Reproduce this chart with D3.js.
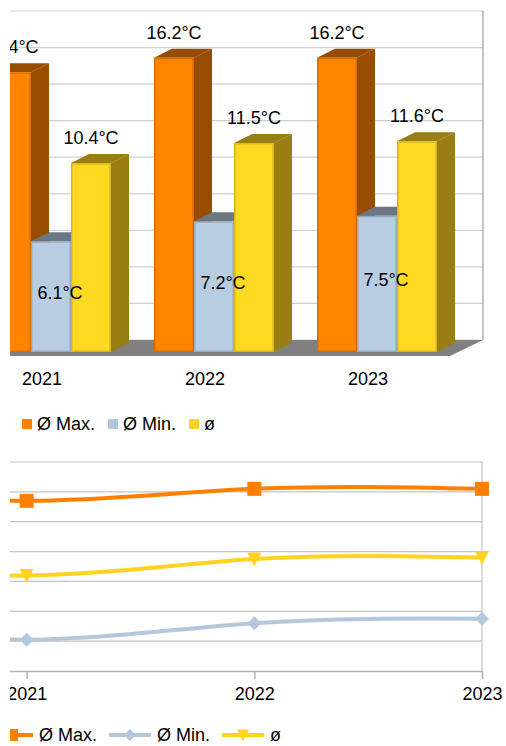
<!DOCTYPE html>
<html lang="en">
<head>
<meta charset="UTF-8">
<title>Temperaturen</title>
<script src="https://d3js.org/d3.v7.min.js"></script>
<style>
    body {
        margin: 0;
        background: #fff;
        font-family: "Liberation Sans", Arial, sans-serif;
    }
    svg { display: block; }
    text { font-size: 18px; fill: #000; }
</style>
</head>
<body>
<div id="container"></div>
<script>
// data (2020 lies left of the visible crop, values estimated from the line trend)
const years = ["2020", "2021", "2022", "2023"];
const seriesNames = ["Ø Max.", "Ø Min.", "ø"];
const maxTemp = [16.4, 15.4, 16.2, 16.2];
const minTemp = [7.4, 6.1, 7.2, 7.5];
const avgTemp = [11.7, 10.4, 11.5, 11.6];
const seriesColors = ["#ff8000", "#b4c7dc", "#ffd320"];
const barTicks = d3.range(0, 19, 2);
const lineTicks = d3.range(4, 19, 2);

const series = seriesNames.map((name, i) => ({
    name: name,
    color: seriesColors[i],
    values: [maxTemp, minTemp, avgTemp][i]
}));

const fmt = v => v.toFixed(1) + "°C";
const cropLeft = 10;

const svg = d3.select('#container').append('svg')
    .attr('width', 506)
    .attr('height', 746);

// the picture is cropped on the left side
svg.append('defs').append('clipPath').attr('id', 'crop')
    .append('rect').attr('x', cropLeft).attr('y', 0).attr('width', 496).attr('height', 746);
const root = svg.append('g').attr('clip-path', 'url(#crop)');

/* ---------- 3D bar chart ---------- */
const bar = root.append('g');
const x0 = d3.scaleBand().domain(years).range([-193.5, 458.5]);
const x1 = d3.scaleBand().domain(seriesNames).range([21.5, 141.5]);
const yWall = d3.scaleLinear().domain([0, 18]).range([340, 11]);
const yFront = d3.scaleLinear().domain([0, 18]).range([352, 25]);
const dx = 18, dy = 9;
const wallRight = 483;

// back wall grid
bar.selectAll('line.grid')
    .data(barTicks)
    .join('line')
    .attr('class', 'grid')
    .attr('x1', cropLeft)
    .attr('x2', wallRight)
    .attr('y1', d => yWall(d))
    .attr('y2', d => yWall(d))
    .attr('stroke', '#cfcfcf')
    .attr('stroke-width', 1.2);

bar.append('line')
    .attr('x1', wallRight).attr('x2', wallRight)
    .attr('y1', yWall(18)).attr('y2', yWall(0))
    .attr('stroke', '#b3b3b3')
    .attr('stroke-width', 1.5);

// floor
const floorBack = yWall(0), floorFront = yWall(0) + 16;
bar.append('polygon')
    .attr('points', [[cropLeft, floorBack], [wallRight, floorBack],
        [wallRight - 33, floorFront], [cropLeft, floorFront]].join(' '))
    .attr('fill', '#808080');

// bars (only the ones reaching into the visible crop)
const barData = [];
years.forEach((year, j) => {
    series.forEach(s => {
        barData.push({ year: year, name: s.name, value: s.values[j], color: s.color });
    });
});
const visibleBars = barData.filter(d => x0(d.year) + x1(d.name) + x1.bandwidth() + dx > cropLeft);

const bars = bar.selectAll('g.bar')
    .data(visibleBars)
    .join('g')
    .attr('class', 'bar');

bars.each(function(d) {
    const g = d3.select(this);
    const x = x0(d.year) + x1(d.name);
    const w = x1.bandwidth();
    const top = yFront(d.value);
    const bottom = yFront(0);
    const dark = d3.rgb(d.color).darker(1.45);

    g.append('polygon')
        .attr('points', [[x + w, top], [x + w + dx, top - dy], [x + w + dx, bottom - dy], [x + w, bottom]].join(' '))
        .attr('fill', dark);
    g.append('polygon')
        .attr('points', [[x, top], [x + dx, top - dy], [x + w + dx, top - dy], [x + w, top]].join(' '))
        .attr('fill', dark);
    g.append('rect')
        .attr('x', x + 0.75)
        .attr('y', top + 0.75)
        .attr('width', w - 1.5)
        .attr('height', bottom - top - 1.5)
        .attr('fill', d3.rgb(d.color).brighter(0.08))
        .attr('stroke', d3.rgb(d.color).darker(0.45))
        .attr('stroke-width', 1.5);
});

// value labels
bar.selectAll('text.value')
    .data(visibleBars)
    .join('text')
    .attr('class', 'value')
    .attr('text-anchor', 'middle')
    .attr('x', d => {
        const c = x0(d.year) + x1(d.name) + x1.bandwidth() / 2;
        return d.name === "Ø Min." ? c + 9 : c;
    })
    .attr('y', d => d.name === "Ø Min."
        ? (yFront(d.value) + yFront(0)) / 2 + 2
        : yFront(d.value) - 19)
    .text(d => fmt(d.value));

// category labels
bar.selectAll('text.cat')
    .data(years.filter(y => x0(y) + x0.bandwidth() > cropLeft))
    .join('text')
    .attr('class', 'cat')
    .attr('text-anchor', 'middle')
    .attr('x', d => x0(d) + x0.bandwidth() / 2 - 9)
    .attr('y', 385)
    .text(d => d);

// bar legend
let lx = 22;
series.forEach(s => {
    root.append('rect')
        .attr('x', lx).attr('y', 419)
        .attr('width', 10).attr('height', 10)
        .attr('fill', s.color);
    const t = root.append('text')
        .attr('x', lx + 15).attr('y', 430)
        .text(s.name);
    lx += 15 + t.node().getComputedTextLength() + 13;
});

/* ---------- line chart ---------- */
const lc = root.append('g');
const xL = d3.scalePoint().domain(years).range([-201, 482]);
const yL = d3.scaleLinear().domain([4, 18]).range([671, 462]);

lc.selectAll('line.grid')
    .data(lineTicks.slice(1))
    .join('line')
    .attr('class', 'grid')
    .attr('x1', cropLeft)
    .attr('x2', xL.range()[1])
    .attr('y1', d => yL(d))
    .attr('y2', d => yL(d))
    .attr('stroke', '#c4c4c4')
    .attr('stroke-width', 1.2);

lc.append('line')
    .attr('x1', xL.range()[1]).attr('x2', xL.range()[1])
    .attr('y1', yL(18)).attr('y2', yL(4))
    .attr('stroke', '#c4c4c4')
    .attr('stroke-width', 1.2);

const xAxis = lc.append('g')
    .attr('transform', `translate(0,${yL(4)})`)
    .call(d3.axisBottom(xL).tickSize(8).tickSizeOuter(0).tickPadding(8));
xAxis.select('.domain').attr('stroke', '#b3b3b3').attr('stroke-width', 1.5);
xAxis.selectAll('.tick line').attr('stroke', '#b3b3b3').attr('stroke-width', 1.5);
xAxis.selectAll('.tick text').style('font-size', '18px').style('fill', '#000');
// drop the tick label that lies fully outside the crop
xAxis.selectAll('.tick').filter(d => xL(d) < 0).remove();

const markers = [
    "M-7,-7H7V7H-7Z",
    "M0,-7L7,0L0,7L-7,0Z",
    "M-7,-6.5L7,-6.5L0,7.5Z"
];

const lineGen = d3.line()
    .x((d, i) => xL(years[i]))
    .y(d => yL(d))
    .curve(d3.curveNatural);

series.forEach((s, k) => {
    lc.append('path')
        .attr('d', lineGen(s.values))
        .attr('fill', 'none')
        .attr('stroke', s.color)
        .attr('stroke-width', 4);
    lc.selectAll('path.m' + k)
        .data(s.values)
        .join('path')
        .attr('class', 'm' + k)
        .attr('d', markers[k])
        .attr('transform', (d, i) => `translate(${xL(years[i])},${yL(d)})`)
        .attr('fill', s.color);
});

// line legend
let sx = -9;
series.forEach((s, k) => {
    root.append('line')
        .attr('x1', sx).attr('x2', sx + 42)
        .attr('y1', 735).attr('y2', 735)
        .attr('stroke', s.color)
        .attr('stroke-width', 4);
    root.append('path')
        .attr('d', markers[k])
        .attr('transform', `translate(${sx + 21},735) scale(0.86)`)
        .attr('fill', s.color);
    const t = root.append('text')
        .attr('x', sx + 48).attr('y', 741)
        .text(s.name);
    sx += 48 + t.node().getComputedTextLength() + 12;
});
</script>
</body>
</html>
